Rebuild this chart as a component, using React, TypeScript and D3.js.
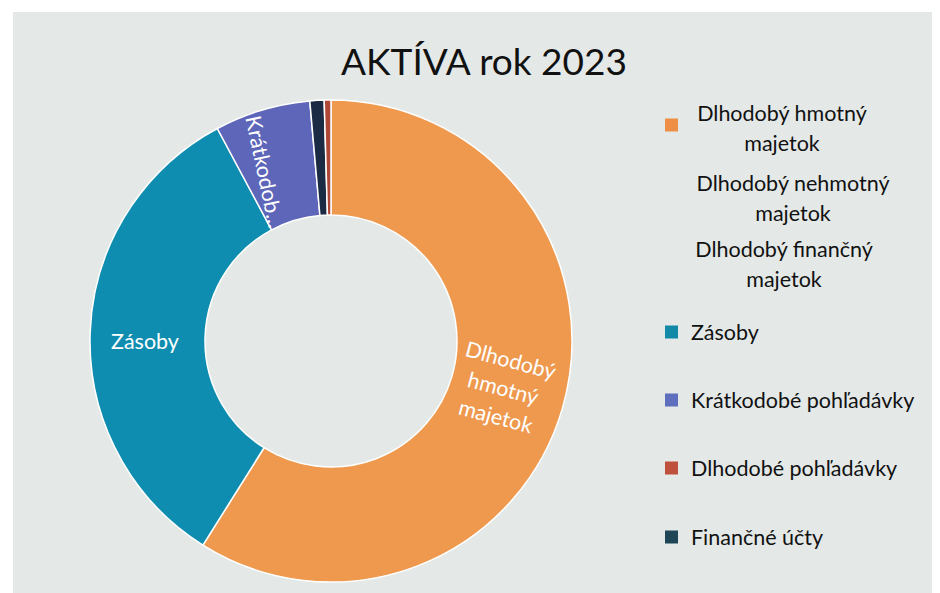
import React from "react";
import * as d3 from "d3";

const title = "AKTÍVA rok 2023";

// legend order
const legendLabels = [
  ["Dlhodobý hmotný", "majetok"],
  ["Dlhodobý nehmotný", "majetok"],
  ["Dlhodobý finančný", "majetok"],
  ["Zásoby"],
  ["Krátkodobé pohľadávky"],
  ["Dlhodobé pohľadávky"],
  ["Finančné účty"],
];
const legendKeys = [
  "Dlhodobý hmotný majetok",
  "Dlhodobý nehmotný majetok",
  "Dlhodobý finančný majetok",
  "Zásoby",
  "Krátkodobé pohľadávky",
  "Dlhodobé pohľadávky",
  "Finančné účty",
];
const legendColors = ["#EE8F45", "none", "none", "#1389A8", "#5E6FBE", "#C0503E", "#1F4656"];

// slices in drawing order (clockwise from 12 o'clock), percent
const sliceKeys = [
  "Dlhodobý hmotný majetok",
  "Dlhodobý nehmotný majetok",
  "Dlhodobý finančný majetok",
  "Zásoby",
  "Krátkodobé pohľadávky",
  "Finančné účty",
  "Dlhodobé pohľadávky",
];
const sliceValues = [58.8, 0, 0, 33.2, 6.4, 0.95, 0.45];
const sliceColors = ["#EE994E", "none", "none", "#0F8DB0", "#5D66B8", "#1B2B43", "#B04838"];

export default function App() {
  const W = 940, H = 593;
  const cx = 331, cy = 341, R = 241, r = 126;
  const pie = d3.pie<number>().sort(null).value((d) => d);
  const arcs = pie(sliceValues);
  const arc = d3.arc<d3.PieArcDatum<number>>().innerRadius(r).outerRadius(R);
  const font = "Lato, 'Open Sans', sans-serif";

  const legendX = 665;
  const textX = 691;
  const legendY = [113, 183, 249, 332, 400, 468, 537];
  const lineH = 30;
  const centers = [782, 793, 784];

  return (
    <svg width={W} height={H} style={{ position: "absolute", left: 0, top: 0, background: "#fff" }}>
      <rect x={13} y={12} width={919} height={581} fill="#e4e9e8" />
      <text x={484} y={75} textAnchor="middle" fontFamily={font} fontSize={37} fill="#111">
        {title}
      </text>
      <g transform={`translate(${cx},${cy})`}>
        {arcs.map((a, i) =>
          sliceValues[i] > 0 ? (
            <path key={sliceKeys[i]} d={arc(a) || ""} fill={sliceColors[i]} stroke="#fff" strokeWidth={1.5} />
          ) : null
        )}
      </g>
      {/* data labels */}
      <g fontFamily={font} fontSize={21.5} fill="#fff" textAnchor="middle">
        <g transform="translate(503,389) rotate(15)">
          <text y={-22}>Dlhodobý</text>
          <text y={7}>hmotný</text>
          <text y={36}>majetok</text>
        </g>
        <text x={145} y={349}>Zásoby</text>
        <g transform="translate(264,172) rotate(78)">
          <text y={7}>Krátkodob...</text>
        </g>
      </g>
      {/* legend */}
      <g fontFamily={font} fontSize={21.5} fill="#111">
        {legendLabels.map((lines, i) => {
          const y0 = legendY[i];
          const col = legendColors[i];
          return (
            <g key={legendKeys[i]}>
              {col !== "none" && (
                <rect x={legendX} y={(lines.length > 1 ? y0 + 12 : y0) - 6.5} width={13} height={13} fill={col} />
              )}
              {lines.map((ln, j) =>
                lines.length > 1 ? (
                  <text key={j} x={centers[i]} y={y0 + j * lineH + 8} textAnchor="middle">
                    {ln}
                  </text>
                ) : (
                  <text key={j} x={textX} y={y0 + 8}>
                    {ln}
                  </text>
                )
              )}
            </g>
          );
        })}
      </g>
    </svg>
  );
}
